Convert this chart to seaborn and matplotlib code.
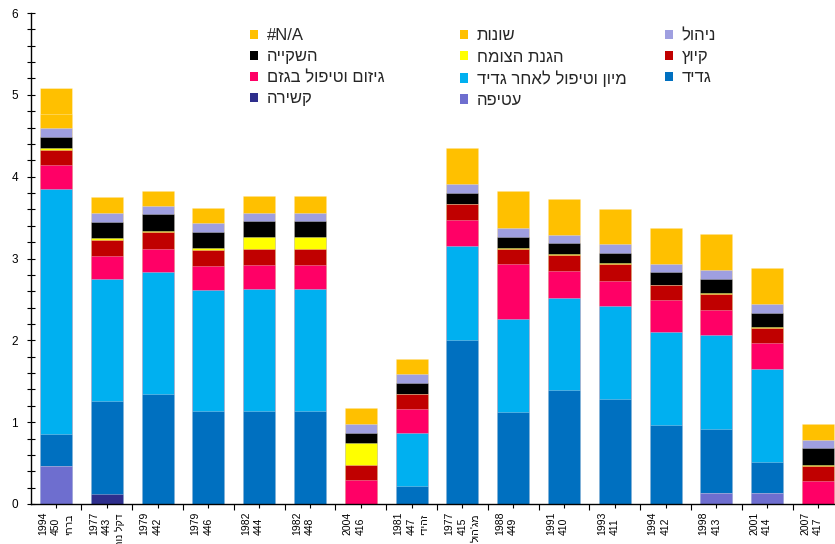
import numpy as np
import pandas as pd
import matplotlib
matplotlib.use("Agg")
import matplotlib.pyplot as plt
import seaborn as sns
from matplotlib.patches import Patch
from matplotlib.ticker import MultipleLocator, FixedLocator
from matplotlib import transforms

# --- data: one bar per plot (year / plot number / variety) ---
years = [1994, 1977, 1979, 1979, 1982, 1982, 2004, 1981, 1977, 1988, 1991, 1993, 1994, 1998, 2001, 2007]
codes = [450, 443, 442, 446, 444, 448, 416, 447, 415, 449, 410, 411, 412, 413, 414, 417]
varieties = ["ברחי", "דקל נור", "", "", "", "", "", "זהידי", "מג'הול", "", "", "", "", "", "", ""]

# work components, stacked bottom to top
wrapping   = [0.46, 0, 0, 0, 0, 0, 0, 0, 0, 0, 0, 0, 0, 0.13, 0.13, 0]
tying      = [0, 0.12, 0, 0, 0, 0, 0, 0, 0, 0, 0, 0, 0, 0, 0, 0]
harvest    = [0.39, 1.14, 1.35, 1.14, 1.14, 1.14, 0, 0.22, 2.0, 1.13, 1.39, 1.28, 0.97, 0.79, 0.38, 0]
sorting    = [3.0, 1.49, 1.49, 1.48, 1.49, 1.49, 0, 0.65, 1.15, 1.13, 1.13, 1.14, 1.13, 1.14, 1.14, 0]
pruning    = [0.29, 0.28, 0.28, 0.29, 0.29, 0.29, 0.29, 0.29, 0.32, 0.67, 0.33, 0.31, 0.39, 0.31, 0.32, 0.28]
thinning   = [0.19, 0.2, 0.2, 0.19, 0.19, 0.19, 0.19, 0.18, 0.19, 0.18, 0.19, 0.2, 0.19, 0.2, 0.18, 0.19]
protection = [0.02, 0.02, 0.02, 0.03, 0.15, 0.15, 0.26, 0.01, 0.01, 0.02, 0.02, 0.01, 0, 0.005, 0.01, 0.01]
irrigation = [0.14, 0.2, 0.2, 0.19, 0.2, 0.2, 0.13, 0.13, 0.13, 0.13, 0.13, 0.13, 0.15, 0.17, 0.17, 0.2]
management = [0.1, 0.1, 0.1, 0.11, 0.1, 0.1, 0.11, 0.11, 0.11, 0.11, 0.1, 0.11, 0.1, 0.11, 0.11, 0.1]
misc       = [0.18, 0.2, 0.19, 0.19, 0.2, 0.2, 0.19, 0.18, 0.44, 0.45, 0.44, 0.43, 0.44, 0.44, 0.44, 0.2]
not_avail  = [0.31, 0, 0, 0, 0, 0, 0, 0, 0, 0, 0, 0, 0, 0, 0, 0]

series_names = ["עטיפה", "קשירה", "גדיד", "מיון וטיפול לאחר גדיד", "גיזום וטיפול בגזם",
                "קיוץ", "הגנת הצומח", "השקייה", "ניהול", "שונות", "#N/A"]
series_colors = ["#6E6ECF", "#2E2E8C", "#0070C0", "#00B0F0", "#FF0066",
                 "#C00000", "#FFFF00", "#000000", "#9F9FE0", "#FFC000", "#FFC000"]
layers = [wrapping, tying, harvest, sorting, pruning, thinning,
          protection, irrigation, management, misc, not_avail]


def visual(s):
    """matplotlib lays text out left to right, so Hebrew runs are flipped."""
    if any("\u0590" <= ch <= "\u05ff" for ch in s):
        return s[::-1]
    return s


keys = [str(c) for c in codes]
df = pd.DataFrame({"key": keys})
cum = np.cumsum(np.array(layers, dtype=float), axis=0)
for i, name in enumerate(series_names):
    df[name] = cum[i]

sns.set_theme(style="ticks")
plt.rcParams["font.family"] = ["Liberation Sans", "DejaVu Sans"]

W, H = 835, 544
fig = plt.figure(figsize=(W / 100, H / 100), dpi=100)
fig.patch.set_facecolor("white")
ax = fig.add_axes([30.6 / W, 40 / H, 812.8 / W, 491 / H])

# stacked columns: cumulative totals drawn from the top layer down
for i in reversed(range(len(series_names))):
    sns.barplot(data=df, x="key", y=series_names[i], order=keys, color=series_colors[i],
                saturation=1, width=0.63, errorbar=None, ax=ax,
                edgecolor=(1, 1, 1, 0.35), linewidth=0.6)

ax.set_xlim(-0.5, len(keys) - 0.5)
ax.set_ylim(0, 6)
ax.set_xlabel("")
ax.set_ylabel("")
for side in ("top", "right"):
    ax.spines[side].set_visible(False)
for side in ("left", "bottom"):
    ax.spines[side].set_color("black")
    ax.spines[side].set_linewidth(1.0)

ax.set_yticks(range(7))
ax.yaxis.set_minor_locator(MultipleLocator(0.2))
ax.tick_params(axis="y", which="both", direction="inout", length=6, width=0.8,
               color="black", labelsize=8.5, pad=6, labelcolor="black")

ax.set_xticks(range(len(keys)))
ax.set_xticklabels([""] * len(keys))
ax.xaxis.set_minor_locator(FixedLocator(np.arange(0.5, len(keys) - 0.5, 1.0)))
ax.tick_params(axis="x", which="major", direction="inout", length=6, width=0.8, color="black")
ax.tick_params(axis="x", which="minor", direction="out", length=4, width=0.8, color="black")

# category labels: year and plot number read upward from a common start,
# the variety name hangs from just under the axis
base = ax.get_xaxis_transform()
for i, (yr, cd, nm) in enumerate(zip(years, codes, varieties)):
    t_year = transforms.offset_copy(base, fig=fig, x=-13, y=-31, units="dots")
    t_code = transforms.offset_copy(base, fig=fig, x=0, y=-31, units="dots")
    ax.text(i, 0, str(yr), transform=t_year, rotation=90, ha="center", va="bottom",
            fontsize=7.5, color="black", clip_on=False)
    ax.text(i, 0, str(cd), transform=t_code, rotation=90, ha="center", va="bottom",
            fontsize=7.5, color="black", clip_on=False)
    if nm:
        t_name = transforms.offset_copy(base, fig=fig, x=13, y=-10, units="dots")
        ax.text(i, 0, visual(nm), transform=t_name, rotation=90, ha="center", va="top",
                fontsize=7.5, color="black", clip_on=False)

# legend laid out as three fixed columns
handles = {n: Patch(facecolor=c, edgecolor="none") for n, c in zip(series_names, series_colors)}
columns = [
    (["#N/A", "השקייה", "גיזום וטיפול בגזם", "קשירה"], 250),
    (["שונות", "הגנת הצומח", "מיון וטיפול לאחר גדיד", "עטיפה"], 460),
    (["ניהול", "קיוץ", "גדיד"], 665),
]
legends = []
for names, x0 in columns:
    leg = ax.legend([handles[n] for n in names], [visual(n) for n in names],
                    loc="upper left", bbox_to_anchor=(x0 / W, (H - 28.5) / H),
                    bbox_transform=fig.transFigure, frameon=False, fontsize=12,
                    handlelength=0.5, handleheight=0.5, handletextpad=0.5,
                    labelspacing=0.36, borderpad=0, borderaxespad=0)
    legends.append(leg)
for leg in legends[:-1]:
    ax.add_artist(leg)

fig.savefig("out.png", dpi=100, facecolor="white")
